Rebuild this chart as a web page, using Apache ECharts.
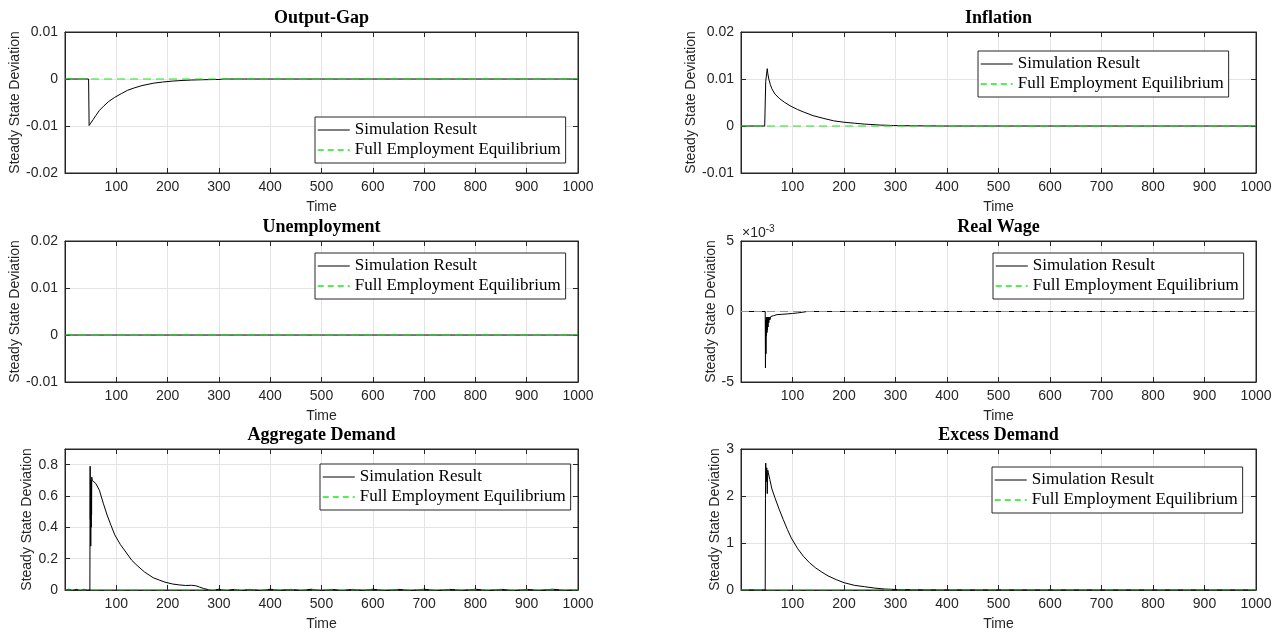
<!DOCTYPE html>
<html><head><meta charset="utf-8">
<script src="https://cdn.jsdelivr.net/npm/echarts@6/dist/echarts.min.js"></script>
<style>html,body{margin:0;padding:0;background:#fff}#c{width:1283px;height:634px}</style>
</head><body><div id="c"></div>
<script>
// ---------- data ----------
const panelTitles = ['Output-Gap', 'Inflation', 'Unemployment', 'Real Wage', 'Aggregate Demand', 'Excess Demand'];
const seriesNames = ['Simulation Result', 'Full Employment Equilibrium'];
const xTickMin = 0, xTickMax = 1000, xTickStep = 100;

const yRanges = [
  [-0.02, 0.01, 0.01],
  [-0.01, 0.02, 0.01],
  [-0.01, 0.02, 0.01],
  [-0.005, 0.005, 0.005],
  [0, 0.9, 0.2],
  [0, 3, 1]
];

const outputGapTime = [0, 46, 47, 50, 55, 60, 67, 75, 85, 97, 110, 122, 135, 150, 172, 190, 209, 230, 247, 270, 300, 310, 321, 350, 400, 500, 600, 700, 800, 900, 1000];
const outputGapValue = [0, 0, -0.0099, -0.0094, -0.0086, -0.0078, -0.0067, -0.0058, -0.0048, -0.0039, -0.0031, -0.0024, -0.0019, -0.0014, -0.0009, -0.00065, -0.00045, -0.0003, -0.00022, -0.00015, -0.0001, 0, 0, 0, 0, 0, 0, 0, 0, 0, 0];

const inflationTime = [0, 46, 48, 51, 52, 54, 57, 60, 66, 74, 85, 97, 110, 121, 140, 161, 180, 200, 220, 240, 270, 296, 330, 400, 1000];
const inflationValue = [0, 0, 0.0095, 0.0122, 0.0112, 0.0100, 0.0088, 0.0079, 0.0068, 0.0059, 0.0050, 0.0042, 0.0035, 0.0030, 0.0022, 0.0016, 0.0011, 0.0008, 0.0006, 0.0004, 0.0002, 0.0001, 0.00005, 0, 0];

const unemploymentTime = [0, 250, 500, 750, 1000];
const unemploymentValue = [0, 0, 0, 0, 0];

const realWageTime = [0, 47, 47.5, 48, 48.5, 49, 49.5, 50, 50.5, 51, 51.5, 52, 52.5, 53, 54, 55, 56, 58, 60, 63, 66, 70, 80, 90, 100, 110, 120, 128, 1000];
const realWageValue = [0, 0, -0.0040, -0.0006, -0.0030, -0.0004, -0.0017, -0.0004, -0.0015, -0.0004, -0.0013, -0.0004, -0.0011, -0.0004, -0.0008, -0.0004, -0.0006, -0.00035, -0.0004, -0.0003, -0.00028, -0.00022, -0.0002, -0.00017, -0.00014, -0.0001, -0.00005, 0, 0];

const aggDemandTime = [0, 8, 15, 22, 30, 37, 44, 48.5, 49, 49.4, 49.8, 50.2, 50.6, 51, 51.4, 51.8, 52.2, 53, 56, 60, 67, 75, 82, 90, 97, 108, 120, 130, 142, 155, 172, 185, 195, 210, 224, 235, 247, 255, 262, 270, 277, 288, 300, 315, 330, 345, 360, 380, 400, 420, 440, 460, 480, 500, 520, 540, 560, 580, 600, 625, 650, 675, 700, 725, 750, 775, 800, 825, 850, 875, 900, 925, 950, 975, 1000];
const aggDemandValue = [0, 0.005, -0.004, 0.004, -0.004, 0.005, -0.003, 0, 0.79, 0.45, 0.70, 0.28, 0.68, 0.40, 0.70, 0.48, 0.72, 0.70, 0.71, 0.68, 0.637, 0.55, 0.479, 0.41, 0.352, 0.29, 0.236, 0.19, 0.152, 0.115, 0.078, 0.062, 0.05, 0.038, 0.032, 0.029, 0.03, 0.027, 0.019, 0.01, 0.004, -0.004, 0.005, -0.004, 0.004, -0.005, 0.004, -0.004, 0.005, -0.003, 0.004, -0.004, 0.005, -0.004, 0.004, -0.005, 0.004, -0.003, 0.005, -0.004, 0.004, -0.004, 0.005, -0.004, 0.004, -0.003, 0.005, -0.004, 0.004, -0.005, 0.004, -0.004, 0.005, -0.003, 0];

const excessDemandTime = [0, 47, 47.5, 48, 49, 50, 51, 52, 53, 56, 60, 66, 74, 82, 90, 97.5, 110, 121, 133, 145, 157, 169, 185, 200, 220, 240, 260, 280, 300, 319, 350, 400, 1000];
const excessDemandValue = [0, 0, 1.95, 2.7, 2.3, 2.6, 2.05, 2.55, 2.5, 2.35, 2.15, 1.96, 1.72, 1.5, 1.29, 1.11, 0.88, 0.72, 0.58, 0.47, 0.38, 0.30, 0.22, 0.156, 0.10, 0.07, 0.04, 0.02, 0.012, 0.007, 0.003, 0.001, 0];

const equilibriumTime = [0, 1000];
const equilibriumValue = [0, 0];

const simTimes = [outputGapTime, inflationTime, unemploymentTime, realWageTime, aggDemandTime, excessDemandTime];
const simValues = [outputGapValue, inflationValue, unemploymentValue, realWageValue, aggDemandValue, excessDemandValue];

// ---------- layout ----------
const gridLefts = [65, 741];
const gridWidths = [513, 515];
const gridTops = [32, 241, 449];
const gridHeight = 141;
const yNameGaps = [42, 43, 42, 22, 29, 19];
const legendPos = [[315, 117], [978, 51], [315, 253], [993, 253], [320, 464], [992, 467]];
const titleTops = [9, 218, 426];

const axisColor = '#262626';
const gridColor = '#e4e4e4';
const eqColor = '#1ee81e';
const sans = 'Liberation Sans';
const serif = 'Liberation Serif';

function fmtY(i) {
  return function (v) {
    if (i === 3) { return String(Math.round(v * 1000)); }
    if (i === 4 && Math.abs(v - 0.9) < 1e-9) return '';
    return String(+v.toFixed(6));
  };
}

const grids = [], xAxes = [], yAxes = [], series = [], titles = [], legends = [];
for (let i = 0; i < 6; i++) {
  const col = i % 2, row = Math.floor(i / 2);
  grids.push({ left: gridLefts[col], top: gridTops[row], width: gridWidths[col], height: gridHeight,
    show: true, borderColor: axisColor, borderWidth: 1, backgroundColor: '#fff' });
  const [ymin, ymax, ystep] = yRanges[i];
  xAxes.push({
    type: 'value', gridIndex: i, min: xTickMin, max: xTickMax, interval: xTickStep, position: 'bottom',
    axisLine: { show: true, onZero: false, lineStyle: { color: axisColor } },
    axisTick: { show: true, inside: true, length: 5, lineStyle: { color: axisColor } },
    axisLabel: { formatter: v => (v === 0 ? '' : String(v)), color: axisColor, fontSize: 14, fontFamily: sans, margin: 7 },
    splitLine: { show: true, lineStyle: { color: gridColor } },
    name: 'Time', nameLocation: 'middle', nameGap: 27,
    nameTextStyle: { color: axisColor, fontSize: 14, fontFamily: sans }
  });
  xAxes.push({
    type: 'value', gridIndex: i, min: xTickMin, max: xTickMax, interval: xTickStep, position: 'top',
    axisLine: { show: true, onZero: false, lineStyle: { color: axisColor } },
    axisTick: { show: true, inside: true, length: 5, lineStyle: { color: axisColor } },
    axisLabel: { show: false }, splitLine: { show: false }
  });
  yAxes.push({
    type: 'value', gridIndex: i, min: ymin, max: ymax, interval: ystep, position: 'left',
    axisLine: { show: true, onZero: false, lineStyle: { color: axisColor } },
    axisTick: { show: true, inside: true, length: 5, lineStyle: { color: axisColor } },
    axisLabel: { formatter: fmtY(i), color: axisColor, fontSize: 14, fontFamily: sans, margin: 7 },
    splitLine: { show: true, lineStyle: { color: gridColor } },
    name: 'Steady State Deviation', nameLocation: 'middle', nameGap: yNameGaps[i],
    nameTextStyle: { color: axisColor, fontSize: 14, fontFamily: sans }
  });
  yAxes.push({
    type: 'value', gridIndex: i, min: ymin, max: ymax, interval: ystep, position: 'right',
    axisLine: { show: true, onZero: false, lineStyle: { color: axisColor } },
    axisTick: { show: true, inside: true, length: 5, lineStyle: { color: axisColor } },
    axisLabel: { show: false }, splitLine: { show: false }
  });
  const t = simTimes[i], v = simValues[i];
  series.push({
    type: 'line', name: seriesNames[0], xAxisIndex: 2 * i, yAxisIndex: 2 * i,
    data: t.map((x, k) => [x, v[k]]), symbol: 'none', showSymbol: false, z: 3,
    lineStyle: { color: '#000', width: 1 }, itemStyle: { color: '#000' }
  });
  series.push({
    type: 'line', name: seriesNames[1], xAxisIndex: 2 * i, yAxisIndex: 2 * i,
    data: equilibriumTime.map((x, k) => [x, equilibriumValue[k]]), symbol: 'none', showSymbol: false, z: 4,
    lineStyle: { color: eqColor, width: 1.2, type: [8, 5] }, itemStyle: { color: eqColor }
  });
  titles.push({
    text: panelTitles[i], left: gridLefts[col] + gridWidths[col] / 2, top: titleTops[row], textAlign: 'center', padding: 0,
    textStyle: { fontFamily: serif, fontWeight: 'bold', fontSize: 18, color: '#000' }
  });
  legends.push({
    left: legendPos[i][0], top: legendPos[i][1], orient: 'vertical',
    data: [
      { name: seriesNames[0], itemStyle: { opacity: 0 }, lineStyle: { color: '#000', width: 1, type: 'solid' } },
      { name: seriesNames[1], itemStyle: { opacity: 0 }, lineStyle: { color: eqColor, width: 1.5, type: [6, 4] } }
    ],
    backgroundColor: '#fff', borderColor: axisColor, borderWidth: 1, borderRadius: 0,
    padding: [4, 5, 4, 2], itemWidth: 32, itemHeight: 14, itemGap: 2, selectedMode: false,
    itemStyle: { opacity: 0 },
    textStyle: { fontFamily: serif, fontSize: 17, color: '#000', lineHeight: 18 }, z: 10
  });
}

const chart = echarts.init(document.getElementById('c'), null, { renderer: 'canvas' });
chart.setOption({
  animation: false,
  backgroundColor: '#fff',
  title: titles,
  legend: legends,
  grid: grids,
  xAxis: xAxes,
  yAxis: yAxes,
  series: series,
  graphic: [{
    type: 'text', left: 742, top: 224,
    style: { text: '×10{sup|-3}', fontFamily: sans, fontSize: 14, fill: axisColor,
      rich: { sup: { fontSize: 10, fontFamily: sans, fill: axisColor, verticalAlign: 'top', padding: [0, 0, 8, 0] } } }
  }]
});
</script></body></html>
